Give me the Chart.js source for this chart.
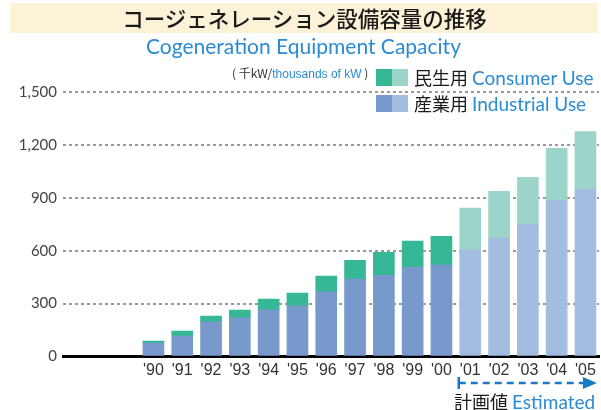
<!DOCTYPE html>
<html>
<head>
<meta charset="utf-8">
<script src="https://cdn.jsdelivr.net/npm/chart.js@4.4.1/dist/chart.umd.min.js"></script>
<style>
  body { margin: 0; background: #fff; }
  #wrap { position: relative; width: 601px; height: 410px; overflow: hidden; font-family: 'Noto Sans CJK JP', sans-serif; }
  #chart { position: absolute; left: 0; top: 0; }
  .abs { position: absolute; white-space: nowrap; }
  .blue { color: #2b8bd2; }
  #band { left: 10px; top: 3px; width: 588px; height: 30px; background: #fcf2d8; }
  #title { left: 4px; width: 601px; top: 3px; text-align: center; font-size: 21.5px; line-height: 30px; color: #1a1a1a; font-weight: 500; }
  #subtitle { left: 3px; width: 601px; top: 33px; text-align: center; font-family: Lato, sans-serif; font-size: 21px; line-height: 26px; }
  #unit { left: 232px; top: 64px; font-size: 12px; line-height: 18px; color: #333; }
  #unit .blue { font-family: 'Liberation Sans Narrow', 'Liberation Sans', sans-serif; font-size: 12px; }
  .sw { width: 16px; height: 17px; }
  .leg { font-size: 18px; line-height: 22px; color: #1a1a1a; }
  .leg .blue { font-family: Lato, sans-serif; font-size: 19px; }
  #est { left: 454px; top: 390px; font-size: 18px; line-height: 22px; color: #1a1a1a; }
  #est .blue { font-family: Lato, sans-serif; font-size: 19px; }
</style>
</head>
<body>
<div id="wrap">
  <canvas id="chart" width="601" height="410"></canvas>
  <div id="band" class="abs"></div>
  <div id="title" class="abs">コージェネレーション設備容量の推移</div>
  <div id="subtitle" class="abs blue">Cogeneration Equipment Capacity</div>
  <div id="unit" class="abs">( 千kW/<span class="blue">thousands of kW</span> )</div>

  <div class="abs sw" id="swC1" style="left:376px; top:69px;"></div>
  <div class="abs sw" id="swC2" style="left:392px; top:69px;"></div>
  <div class="abs leg" style="left:414px; top:66px;">民生用 <span class="blue">Consumer Use</span></div>
  <div class="abs sw" id="swI1" style="left:376px; top:95px;"></div>
  <div class="abs sw" id="swI2" style="left:392px; top:95px;"></div>
  <div class="abs leg" style="left:414px; top:92px;">産業用 <span class="blue">Industrial Use</span></div>

  <div id="est" class="abs">計画値 <span class="blue">Estimated</span></div>
</div>
<script>
const years = [1990, 1991, 1992, 1993, 1994, 1995, 1996, 1997, 1998, 1999, 2000, 2001, 2002, 2003, 2004, 2005];
const tickLabels = ["'90", "'91", "'92", "'93", "'94", "'95", "'96", "'97", "'98", "'99", "'00", "'01", "'02", "'03", "'04", "'05"];
const industrialUse = [76, 116, 197, 220, 265, 288, 367, 439, 461, 507, 518, 603, 671, 750, 886, 948];
const consumerUse = [11, 28, 32, 43, 60, 71, 89, 107, 130, 147, 164, 238, 266, 266, 294, 328];
const firstEstimatedYear = 2001;
const yTicks = [0, 300, 600, 900, 1200, 1500];

const colors = {
    consumer: '#36b795',
    consumerEst: '#9dd4c9',
    industrial: '#7799cc',
    industrialEst: '#a3bde1'
};

document.getElementById('swC1').style.background = colors.consumer;
document.getElementById('swC2').style.background = colors.consumerEst;
document.getElementById('swI1').style.background = colors.industrial;
document.getElementById('swI2').style.background = colors.industrialEst;

const isEst = years.map(y => y >= firstEstimatedYear);

// dashed arrow under the estimated years
const estimateArrow = {
    id: 'estimateArrow',
    afterDraw(chart) {
        const meta = chart.getDatasetMeta(0);
        const i0 = years.indexOf(firstEstimatedYear);
        const first = meta.data[i0];
        const last = meta.data[years.length - 1];
        const x0 = first.x - first.width / 2 - 1;
        const x1 = last.x + last.width / 2 + 1;
        const y = 383;
        const ctx = chart.ctx;
        ctx.save();
        ctx.strokeStyle = '#1a79c4';
        ctx.fillStyle = '#1a79c4';
        ctx.lineWidth = 2.5;
        ctx.beginPath();
        ctx.moveTo(x0, y - 6);
        ctx.lineTo(x0, y + 6);
        ctx.stroke();
        ctx.setLineDash([7, 5]);
        ctx.beginPath();
        ctx.moveTo(x0, y);
        ctx.lineTo(x1 - 12, y);
        ctx.stroke();
        ctx.setLineDash([]);
        ctx.beginPath();
        ctx.moveTo(x1, y);
        ctx.lineTo(x1 - 14, y - 6);
        ctx.lineTo(x1 - 14, y + 6);
        ctx.closePath();
        ctx.fill();
        ctx.restore();
    }
};

new Chart(document.getElementById('chart'), {
    type: 'bar',
    data: {
        datasets: [{
            label: '産業用 Industrial Use',
            data: years.map((yr, i) => ({ x: yr, y: industrialUse[i] })),
            backgroundColor: isEst.map(e => e ? colors.industrialEst : colors.industrial),
            barThickness: 21
        }, {
            label: '民生用 Consumer Use',
            data: years.map((yr, i) => ({ x: yr, y: consumerUse[i] })),
            backgroundColor: isEst.map(e => e ? colors.consumerEst : colors.consumer),
            barThickness: 21
        }]
    },
    options: {
        responsive: false,
        animation: false,
        layout: { padding: { top: 92, right: 2, left: 0, bottom: 0 } },
        plugins: { legend: { display: false }, tooltip: { enabled: false } },
        scales: {
            x: {
                type: 'linear',
                stacked: true,
                offset: false,
                min: 1986.86,
                max: 2005.47,
                afterBuildTicks: s => { s.ticks = years.map(v => ({ value: v })); },
                afterFit: s => { s.height = 53.5; },
                grid: { display: false, drawTicks: false, offset: false },
                border: { color: '#000', width: 3 },
                ticks: {
                    autoSkip: false,
                    maxRotation: 0,
                    padding: 4,
                    color: '#333',
                    font: { family: 'Liberation Sans', size: 16 },
                    callback: v => tickLabels[years.indexOf(v)]
                }
            },
            y: {
                stacked: true,
                min: 0,
                max: 1500,
                afterBuildTicks: s => { s.ticks = yTicks.map(v => ({ value: v })); },
                afterFit: s => { s.width = 63; },
                border: { display: false, dash: [3, 3] },
                grid: {
                    drawTicks: false,
                    color: c => c.tick && c.tick.value === 0 ? 'rgba(0,0,0,0)' : '#999999',
                    lineWidth: 2
                },
                ticks: {
                    padding: 6,
                    color: '#444',
                    font: { family: 'Lato', size: 15 },
                    callback: v => v.toLocaleString('en-US')
                }
            }
        }
    },
    plugins: [estimateArrow]
});
</script>
</body>
</html>
